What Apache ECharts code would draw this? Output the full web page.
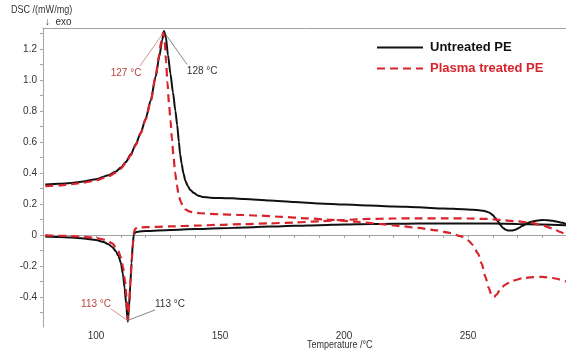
<!DOCTYPE html>
<html>
<head>
<meta charset="utf-8">
<script src="https://cdn.jsdelivr.net/npm/echarts@6/dist/echarts.min.js"></script>
<style>
  html, body { margin: 0; padding: 0; background: #fff; }
  #dsc { width: 566px; height: 353px; }
</style>
</head>
<body>
<div id="dsc"></div>
<script>
// --- data (temperature in degC, DSC in mW/mg) ---
const untreatedHeatT = [79.5, 85, 90, 95, 100, 105, 108, 110, 112, 114, 116, 118, 120, 122, 124, 125.5, 126.7, 127.4, 128.1, 129, 130, 131, 132, 132.7, 133.4, 133.9, 134.5, 135.2, 136, 137, 138, 139.5, 141, 143, 146, 150, 155, 160, 170, 180, 190, 200, 210, 220, 230, 240, 248, 252, 255, 257, 258.5, 260, 261, 262, 263, 264, 265, 266, 267.5, 269, 270.5, 272, 274, 276, 278, 280, 282, 284, 286, 288, 289.5];
const untreatedHeatV = [0.325, 0.33, 0.335, 0.345, 0.36, 0.385, 0.41, 0.435, 0.47, 0.52, 0.585, 0.66, 0.75, 0.865, 1.02, 1.15, 1.26, 1.315, 1.28, 1.16, 1.04, 0.92, 0.8, 0.71, 0.6, 0.52, 0.46, 0.4, 0.35, 0.315, 0.29, 0.27, 0.255, 0.245, 0.24, 0.238, 0.236, 0.232, 0.222, 0.212, 0.203, 0.196, 0.19, 0.184, 0.178, 0.171, 0.166, 0.163, 0.158, 0.153, 0.145, 0.128, 0.11, 0.088, 0.065, 0.047, 0.035, 0.029, 0.028, 0.033, 0.045, 0.06, 0.077, 0.087, 0.093, 0.096, 0.095, 0.091, 0.085, 0.078, 0.07];

const untreatedCoolT = [79.5, 85, 90, 95, 100, 103, 105, 106.5, 108, 109, 110, 110.8, 111.5, 112.1, 112.8, 113.3, 113.8, 114.3, 114.8, 115.2, 115.8, 117, 120, 130, 140, 150, 160, 170, 180, 190, 200, 210, 220, 230, 240, 250, 260, 270, 280, 289.5];
const untreatedCoolV = [-0.01, -0.013, -0.017, -0.023, -0.033, -0.045, -0.06, -0.078, -0.105, -0.135, -0.18, -0.25, -0.34, -0.44, -0.56, -0.46, -0.32, -0.18, -0.06, 0.0, 0.016, 0.021, 0.025, 0.032, 0.038, 0.043, 0.048, 0.054, 0.059, 0.063, 0.067, 0.07, 0.072, 0.073, 0.074, 0.074, 0.073, 0.071, 0.068, 0.063];

const plasmaHeatT = [79.5, 85, 90, 95, 100, 105, 108, 110, 112, 114, 116, 118, 120, 122, 124, 125.3, 126.3, 127, 127.6, 128.2, 128.8, 129.4, 130, 130.6, 131.2, 131.9, 132.6, 133.3, 134, 135, 136, 137.5, 139, 142, 146, 150, 157, 165, 175, 185, 195, 205, 215, 222, 230, 237, 243, 247, 250, 252, 254, 255.5, 257, 258.3, 259.5, 260.5, 261.5, 263, 265, 268, 272, 276, 280, 284, 289.5];
const plasmaHeatV = [0.315, 0.32, 0.327, 0.337, 0.352, 0.378, 0.402, 0.428, 0.465, 0.515, 0.58, 0.655, 0.745, 0.86, 1.02, 1.15, 1.25, 1.305, 1.27, 1.12, 0.98, 0.85, 0.74, 0.62, 0.51, 0.4, 0.32, 0.26, 0.22, 0.185, 0.165, 0.152, 0.146, 0.14, 0.136, 0.133, 0.13, 0.125, 0.117, 0.107, 0.097, 0.085, 0.07, 0.058, 0.045, 0.03, 0.012, -0.008, -0.035, -0.065, -0.12, -0.185, -0.27, -0.34, -0.39, -0.4, -0.385, -0.35, -0.32, -0.295, -0.28, -0.272, -0.27, -0.278, -0.3];

const plasmaCoolT = [79.5, 85, 90, 95, 100, 103, 105, 106.5, 108, 109, 110, 110.9, 111.7, 112.3, 112.9, 113.4, 113.9, 114.4, 114.9, 115.3, 115.8, 116.5, 118, 120, 130, 140, 150, 160, 170, 180, 190, 200, 210, 220, 230, 240, 250, 258, 264, 270, 275, 280, 284, 287, 289.5];
const plasmaCoolV = [-0.003, -0.005, -0.008, -0.012, -0.02, -0.03, -0.04, -0.055, -0.08, -0.105, -0.145, -0.21, -0.3, -0.4, -0.55, -0.45, -0.3, -0.16, -0.05, 0.02, 0.04, 0.046, 0.048, 0.05, 0.055, 0.06, 0.065, 0.07, 0.075, 0.08, 0.088, 0.097, 0.103, 0.106, 0.107, 0.107, 0.106, 0.103, 0.095, 0.087, 0.08, 0.062, 0.042, 0.02, 0.0];

const xTickLabels = [100, 150, 200, 250];
const xTicks = [80, 90, 100, 110, 120, 130, 140, 150, 160, 170, 180, 190, 200, 210, 220, 230, 240, 250, 260, 270, 280];
const yTickLabels = [-0.4, -0.2, 0, 0.2, 0.4, 0.6, 0.8, 1.0, 1.2];
const yTicks = [-0.5, -0.4, -0.3, -0.2, -0.1, 0, 0.1, 0.2, 0.3, 0.4, 0.5, 0.6, 0.7, 0.8, 0.9, 1.0, 1.1, 1.2, 1.3];

const zip = (t, v) => t.map((x, i) => [x, v[i]]);

const FONT = '"Liberation Sans", Arial, sans-serif';
const RED = '#d8232b';
const AXIS = '#a3a3a3';

const chart = echarts.init(document.getElementById('dsc'));

// small helper for the temperature call-outs
const callout = (text, at, color) => ({
    coord: at,
    symbol: 'circle',
    symbolSize: 1,
    itemStyle: { color: 'rgba(0,0,0,0)' },
    label: { show: true, position: 'inside', formatter: text, color: color, fontSize: 10, fontFamily: FONT }
});
const leader = (from, to) => [{ coord: from }, { coord: to }];

const option = {
    animation: false,
    grid: { left: 43, right: 0, top: 28, bottom: 26 },
    legend: {
        orient: 'vertical',
        left: 371,
        top: 36,
        itemWidth: 46,
        itemHeight: 14,
        itemGap: 8,
        itemStyle: { opacity: 0 },
        textStyle: { fontFamily: FONT, fontSize: 13, fontWeight: 'bold', padding: [0, 0, 0, 2] },
        data: [
            { name: 'Untreated PE', textStyle: { color: '#111' } },
            { name: 'Plasma treated PE', textStyle: { color: RED } }
        ]
    },
    xAxis: [
        {
            type: 'value',
            min: 78.6,
            max: 289.5,
            splitLine: { show: false },
            axisLine: { lineStyle: { color: AXIS, width: 1 } },
            axisTick: { customValues: xTicks, length: 3, lineStyle: { color: AXIS } },
            axisLabel: { customValues: xTickLabels, color: '#333', fontSize: 10, fontFamily: FONT, margin: 4 }
        },
        {
            type: 'value',
            position: 'top',
            min: 0,
            max: 1,
            splitLine: { show: false },
            axisLine: { show: true, lineStyle: { color: AXIS, width: 1 } },
            axisTick: { show: false },
            axisLabel: { show: false }
        }
    ],
    yAxis: {
        type: 'value',
        min: -0.594,
        max: 1.335,
        splitLine: { show: false },
        axisLine: { show: true, lineStyle: { color: AXIS, width: 1 } },
        axisTick: { show: true, customValues: yTicks, length: 3, lineStyle: { color: AXIS } },
        axisLabel: {
            customValues: yTickLabels,
            color: '#333',
            fontSize: 10,
            fontFamily: FONT,
            margin: 6,
            formatter: v => (Math.abs(v) < 1e-9 ? '0' : v.toFixed(1))
        }
    },
    graphic: [
        { type: 'text', left: 11, top: 5, scaleX: 0.86, style: { text: 'DSC /(mW/mg)', fontSize: 10.5, fontFamily: FONT, fill: '#333' } },
        { type: 'text', left: 45, top: 17, style: { text: '\u2193  exo', fontSize: 10, fontFamily: FONT, fill: '#333' } },
        { type: 'text', left: 307, top: 340, scaleX: 0.9, style: { text: 'Temperature /\u00B0C', fontSize: 10, fontFamily: FONT, fill: '#333' } }
    ],
    series: [
        {
            name: 'Untreated PE',
            type: 'line',
            data: zip(untreatedHeatT, untreatedHeatV),
            symbol: 'none',
            smooth: 0.25,
            smoothMonotone: 'x',
            lineStyle: { color: '#111', width: 2 },
            itemStyle: { color: '#111' },
            markPoint: {
                silent: true,
                data: [
                    callout('128 \u00B0C', [142.8, 1.058], '#333'),
                    callout('113 \u00B0C', [129.8, -0.45], '#333')
                ]
            },
            markLine: {
                silent: true,
                symbol: ['none', 'none'],
                label: { show: false },
                lineStyle: { type: 'solid', width: 0.8, color: '#666' },
                data: [
                    leader([136.7, 1.1], [127.8, 1.3]),
                    leader([123.8, -0.484], [113.0, -0.55])
                ]
            }
        },
        {
            name: 'Untreated PE',
            type: 'line',
            data: zip(untreatedCoolT, untreatedCoolV),
            symbol: 'none',
            smooth: 0.25,
            smoothMonotone: 'x',
            lineStyle: { color: '#111', width: 2 },
            itemStyle: { color: '#111' }
        },
        {
            name: 'Plasma treated PE',
            type: 'line',
            data: zip(plasmaHeatT, plasmaHeatV),
            symbol: 'none',
            smooth: 0.25,
            smoothMonotone: 'x',
            lineStyle: { color: RED, width: 2.2, type: [8, 5] },
            itemStyle: { color: RED },
            markPoint: {
                silent: true,
                data: [
                    callout('127 \u00B0C', [112.1, 1.045], '#b8433f'),
                    callout('113 \u00B0C', [100, -0.445], '#b8433f')
                ]
            },
            markLine: {
                silent: true,
                symbol: ['none', 'none'],
                label: { show: false },
                lineStyle: { type: 'solid', width: 0.8, color: '#c77a78' },
                data: [
                    leader([117.7, 1.09], [127.0, 1.3]),
                    leader([106, -0.477], [112.5, -0.55])
                ]
            }
        },
        {
            name: 'Plasma treated PE',
            type: 'line',
            data: zip(plasmaCoolT, plasmaCoolV),
            symbol: 'none',
            smooth: 0.25,
            smoothMonotone: 'x',
            lineStyle: { color: RED, width: 2.2, type: [8, 5] },
            itemStyle: { color: RED }
        }
    ]
};

chart.setOption(option);
</script>
</body>
</html>
